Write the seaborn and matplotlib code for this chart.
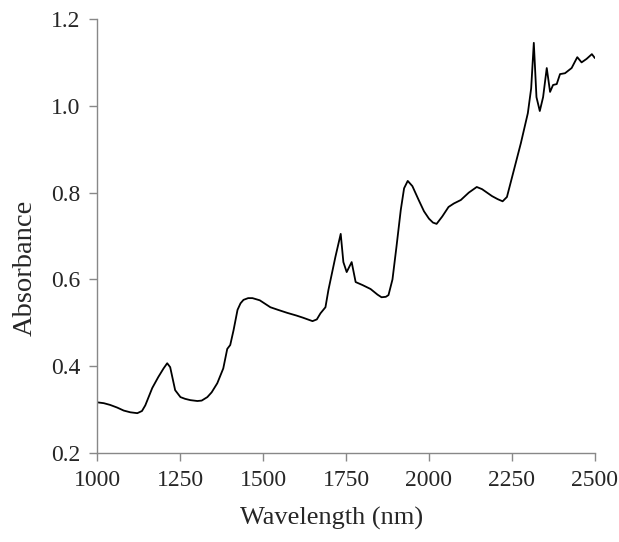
import matplotlib
matplotlib.use("Agg")
import matplotlib.pyplot as plt
import pandas as pd
import numpy as np
import seaborn as sns

# spectrum
wavelength = [1000, 1020, 1039, 1060, 1080, 1100, 1121, 1135, 1145, 1166, 1184, 1200, 1211, 1220,
              1235, 1251, 1265, 1281, 1302, 1315, 1332, 1345, 1362, 1380, 1392, 1401, 1411, 1423,
              1432, 1441, 1455, 1468, 1490, 1522, 1545, 1573, 1600, 1620, 1649, 1662, 1673, 1688,
              1697, 1718, 1734, 1742, 1752, 1767, 1779, 1800, 1824, 1845, 1857, 1870, 1878, 1890,
              1902, 1915, 1925, 1936, 1950, 1969, 1985, 2000, 2012, 2023, 2040, 2059, 2075, 2096,
              2120, 2144, 2160, 2175, 2190, 2207, 2222, 2235, 2256, 2277, 2298, 2308, 2316, 2324,
              2334, 2344, 2355, 2365, 2374, 2385, 2395, 2410, 2430, 2447, 2460, 2475, 2491, 2500]
absorbance = [0.317, 0.315, 0.311, 0.305, 0.298, 0.294, 0.292, 0.297, 0.310, 0.350, 0.375, 0.395,
              0.407, 0.398, 0.345, 0.329, 0.325, 0.322, 0.320, 0.321, 0.329, 0.340, 0.361, 0.395,
              0.440, 0.449, 0.483, 0.530, 0.545, 0.553, 0.557, 0.557, 0.552, 0.536, 0.530, 0.523,
              0.517, 0.512, 0.504, 0.508, 0.522, 0.536, 0.576, 0.652, 0.705, 0.640, 0.617, 0.640,
              0.594, 0.587, 0.578, 0.565, 0.559, 0.560, 0.564, 0.600, 0.675, 0.760, 0.810, 0.827,
              0.815, 0.783, 0.757, 0.740, 0.731, 0.728, 0.745, 0.767, 0.775, 0.783, 0.800, 0.813,
              0.808, 0.800, 0.792, 0.785, 0.780, 0.790, 0.852, 0.914, 0.983, 1.040, 1.145, 1.020,
              0.988, 1.020, 1.087, 1.032, 1.048, 1.050, 1.073, 1.075, 1.087, 1.112, 1.100, 1.108,
              1.119, 1.110]

x_ticks = [1000, 1250, 1500, 1750, 2000, 2250, 2500]
y_ticks = [0.2, 0.4, 0.6, 0.8, 1.0, 1.2]

df = pd.DataFrame({'Wavelength': wavelength, 'Absorbance': absorbance})

sns.set_style("white")
plt.rcParams['font.family'] = ['Liberation Serif', 'DejaVu Serif']

fig = plt.figure(figsize=(6.19, 5.42), dpi=100)
ax = fig.add_axes([0.157, 0.164, 0.804, 0.801])
sns.lineplot(data=df, x='Wavelength', y='Absorbance', color='black', linewidth=1.3, ax=ax, sort=False)

ax.set_xlim(1000, 2500)
ax.set_ylim(0.2, 1.2)
ax.set_xticks(x_ticks)
ax.set_xticklabels([str(t) for t in x_ticks])
ax.set_yticks(y_ticks)
ax.set_yticklabels(["%.1f" % t for t in y_ticks])
ax.tick_params(direction='out', length=6, width=1, color='#888888', labelsize=17, pad=6,
               bottom=True, left=True)
for s in ['top', 'right']:
    ax.spines[s].set_visible(False)
for s in ['left', 'bottom']:
    ax.spines[s].set_color('#888888')
    ax.spines[s].set_linewidth(1)
ax.set_xlabel("Wavelength (nm)", fontsize=19)
ax.set_ylabel("Absorbance", fontsize=20.5)
ax.xaxis.set_label_coords(0.47, -0.125)
ax.yaxis.set_label_coords(-0.12, 0.426)

fig.savefig("out.png", dpi=100)
